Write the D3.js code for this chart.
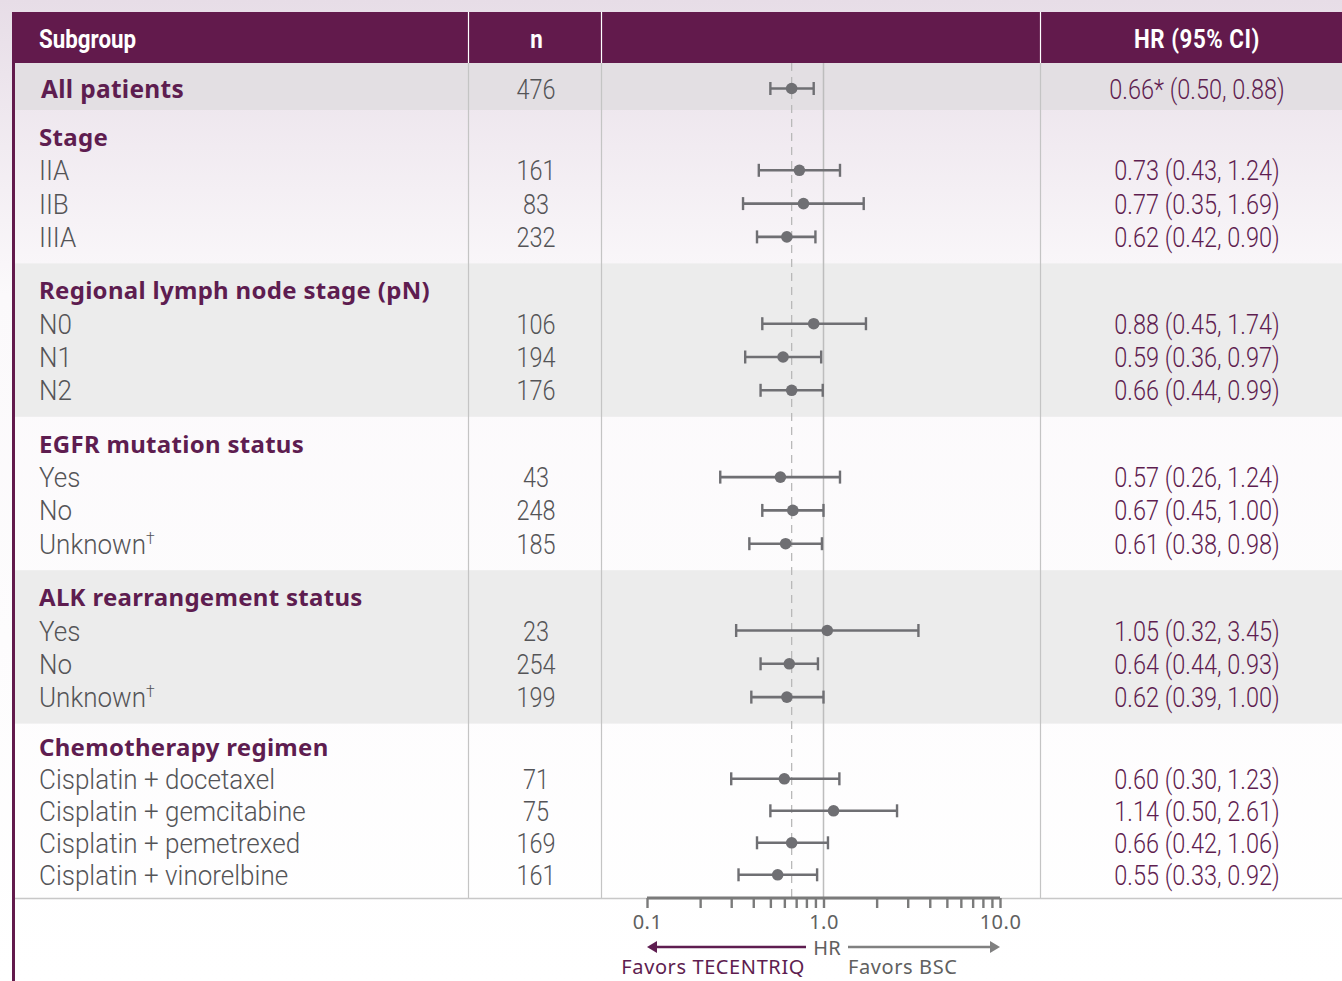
<!DOCTYPE html>
<html>
<head>
<meta charset="utf-8">
<script src="https://cdn.jsdelivr.net/npm/d3@7"></script>
<style>
  body { margin: 0; background: #ffffff; }
  svg { display: block; }
</style>
</head>
<body>
<svg id="chart" width="1342" height="981"></svg>
<script>
// ---- data ----
const columnHeaders = ["Subgroup", "n", "", "HR (95% CI)"];

const overallLabel = "All patients";
const overallN = 476;
const overallHR = 0.66;
const overallLow = 0.50;
const overallHigh = 0.88;

const sectionTitles = [
  "Stage",
  "Regional lymph node stage (pN)",
  "EGFR mutation status",
  "ALK rearrangement status",
  "Chemotherapy regimen"
];

const rowSection = [0, 0, 0, 1, 1, 1, 2, 2, 2, 3, 3, 3, 4, 4, 4, 4];
const rowLabels = [
  "IIA", "IIB", "IIIA",
  "N0", "N1", "N2",
  "Yes", "No", "Unknown†",
  "Yes", "No", "Unknown†",
  "Cisplatin + docetaxel", "Cisplatin + gemcitabine",
  "Cisplatin + pemetrexed", "Cisplatin + vinorelbine"
];
const rowN    = [161, 83, 232, 106, 194, 176, 43, 248, 185, 23, 254, 199, 71, 75, 169, 161];
const rowHR   = [0.73, 0.77, 0.62, 0.88, 0.59, 0.66, 0.57, 0.67, 0.61, 1.05, 0.64, 0.62, 0.60, 1.14, 0.66, 0.55];
const rowLow  = [0.43, 0.35, 0.42, 0.45, 0.36, 0.44, 0.26, 0.45, 0.38, 0.32, 0.44, 0.39, 0.30, 0.50, 0.42, 0.33];
const rowHigh = [1.24, 1.69, 0.90, 1.74, 0.97, 0.99, 1.24, 1.00, 0.98, 3.45, 0.93, 1.00, 1.23, 2.61, 1.06, 0.92];

const axisMajorTicks = [0.1, 1, 10];
const axisTickLabels = ["0.1", "1.0", "10.0"];
const favorsLeft = "Favors TECENTRIQ";
const favorsRight = "Favors BSC";
const axisTitle = "HR";

// ---- style ----
const W = 1342, H = 981;
const PURPLE = "#621a4c";
const TEXT_PURPLE = "#5e1d50";
const GRAY_TEXT = "#545457";
const MARK = "#6f6f73";
const COND = "Roboto, 'Liberation Sans', sans-serif";
const BOLD = "'Noto Sans', 'Open Sans', sans-serif";
const GEO = "'Noto Sans', 'Open Sans', sans-serif";
const BODY_SIZE = 28;
const LABEL_SX = 0.93;   // horizontal squeeze for label text
const NUM_SX = 0.84;     // horizontal squeeze for numeric text
const HEAD_SX = 0.86;    // horizontal squeeze for header text

const colX = [12, 468, 601, 1040, W];
const headerTop = 12, headerBottom = 63;
const overallBottom = 110;
const tableBottom = 898;
const sectionHeadOffset = 27, rowStep = 33.3, sectionPad = 26.5;
const lastRowStep = 32;

const svg = d3.select("#chart");

// page background wash
const defs = svg.append("defs");
const grad = defs.append("linearGradient").attr("id", "wash")
  .attr("x1", 0).attr("y1", 0).attr("x2", 0).attr("y2", 1);
grad.append("stop").attr("offset", "0").attr("stop-color", "#e7dde7");
grad.append("stop").attr("offset", "0.3").attr("stop-color", "#fbf9fb");
grad.append("stop").attr("offset", "1").attr("stop-color", "#ffffff");
svg.append("rect").attr("width", W).attr("height", H).attr("fill", "url(#wash)");

// condensed text helper: places text at (x,y) squeezed horizontally
function squeezed(sel, x, y, sx) {
  return sel.attr("transform", (d, i) => {
    const xx = typeof x === "function" ? x(d, i) : x;
    const yy = typeof y === "function" ? y(d, i) : y;
    return `translate(${xx},${yy}) scale(${sx},1)`;
  });
}

// ---- layout of sections (last section is fitted to the table bottom) ----
const sections = [];
let cursor = overallBottom;
sectionTitles.forEach((t, si) => {
  const idx = rowSection.map((s, i) => s === si ? i : -1).filter(i => i >= 0);
  const last = si === sectionTitles.length - 1;
  const top = cursor;
  let headY, step, bottom;
  if (last) {
    step = lastRowStep;
    bottom = tableBottom;
    headY = top + (bottom - top - step * idx.length) / 2;
  } else {
    step = rowStep;
    headY = top + sectionHeadOffset;
    bottom = top + sectionHeadOffset + rowStep * idx.length + sectionPad;
  }
  const rowYs = idx.map((_, j) => headY + step * (j + 1));
  sections.push({ title: t, top, bottom, headY, idx, rowYs });
  cursor = bottom;
});
const rowY = new Array(rowLabels.length);
sections.forEach(s => s.idx.forEach((i, k) => rowY[i] = s.rowYs[k]));
const overallY = (headerBottom + overallBottom) / 2 + 2;

// ---- bands ----
svg.append("rect").attr("x", colX[0]).attr("y", headerBottom)
  .attr("width", W - colX[0]).attr("height", overallBottom - headerBottom)
  .attr("fill", "#e3dfe3");
svg.selectAll("rect.band").data(sections).join("rect")
  .attr("class", "band")
  .attr("x", colX[0]).attr("y", d => d.top)
  .attr("width", W - colX[0]).attr("height", d => d.bottom - d.top)
  .attr("fill", (d, i) => i % 2 === 1 ? "#ececec" : "none");

// header bar
svg.append("rect").attr("x", colX[0]).attr("y", headerTop)
  .attr("width", W - colX[0]).attr("height", headerBottom - headerTop)
  .attr("fill", PURPLE);

// column separators
[colX[1], colX[2], colX[3]].forEach(x => {
  svg.append("line").attr("x1", x + 0.5).attr("x2", x + 0.5)
    .attr("y1", headerTop).attr("y2", headerBottom)
    .attr("stroke", "#ffffff").attr("stroke-width", 1.2);
  svg.append("line").attr("x1", x + 0.5).attr("x2", x + 0.5)
    .attr("y1", headerBottom).attr("y2", tableBottom)
    .attr("stroke", "#c4c4c4").attr("stroke-width", 1.2);
});
// bottom rule
svg.append("line").attr("x1", colX[0]).attr("x2", W)
  .attr("y1", tableBottom + 0.5).attr("y2", tableBottom + 0.5)
  .attr("stroke", "#c8c8c8").attr("stroke-width", 1.5);

// left purple border
svg.append("rect").attr("x", 12).attr("y", headerBottom)
  .attr("width", 3).attr("height", H - headerBottom).attr("fill", PURPLE);

// ---- header text ----
const hdr = svg.append("g").attr("font-family", COND).attr("font-weight", "bold")
  .attr("font-size", 26).attr("fill", "#ffffff");
squeezed(hdr.append("text"), 39, 48, HEAD_SX).text(columnHeaders[0]);
squeezed(hdr.append("text"), (colX[1] + colX[2]) / 2 + 2, 48, HEAD_SX)
  .attr("text-anchor", "middle").text(columnHeaders[1]);
squeezed(hdr.append("text"), 1197, 48, HEAD_SX)
  .attr("text-anchor", "middle").attr("letter-spacing", 0.6).text(columnHeaders[3]);

// ---- x scale (log HR) ----
const x = d3.scaleLog().domain([0.1, 10]).range([647, 1000]);

// reference lines
svg.append("line").attr("x1", x(1)).attr("x2", x(1))
  .attr("y1", headerBottom).attr("y2", tableBottom)
  .attr("stroke", "#bdbdbd").attr("stroke-width", 1.5);
svg.append("line").attr("x1", x(overallHR)).attr("x2", x(overallHR))
  .attr("y1", headerBottom).attr("y2", tableBottom)
  .attr("stroke", "#b9b9b9").attr("stroke-width", 1.3)
  .attr("stroke-dasharray", "8,6");

// ---- text columns ----
const fmt = d3.format(".2f");

// overall row
svg.append("text").attr("x", 41).attr("y", overallY + 9)
  .attr("font-family", BOLD).attr("font-weight", 700).attr("font-size", 24.5)
  .attr("letter-spacing", 0.3)
  .attr("fill", TEXT_PURPLE).text(overallLabel);
squeezed(svg.append("text"), 536, overallY + 10, NUM_SX)
  .attr("text-anchor", "middle").attr("font-family", COND).attr("font-size", BODY_SIZE)
  .attr("font-weight", 300)
  .attr("fill", GRAY_TEXT).text(overallN);
squeezed(svg.append("text"), 1197, overallY + 10, NUM_SX)
  .attr("text-anchor", "middle").attr("font-family", COND).attr("font-size", BODY_SIZE)
  .attr("font-weight", 300).attr("fill", TEXT_PURPLE)
  .text(`${fmt(overallHR)}* (${fmt(overallLow)}, ${fmt(overallHigh)})`);

// section titles
svg.selectAll("text.sect").data(sections).join("text")
  .attr("class", "sect")
  .attr("x", 39).attr("y", d => d.headY + 9)
  .attr("font-family", BOLD).attr("font-weight", 700).attr("font-size", 24)
  .attr("letter-spacing", 0.3)
  .attr("fill", TEXT_PURPLE).text(d => d.title);

// row labels (with superscript dagger)
const labelSel = squeezed(
  svg.selectAll("text.lab").data(rowLabels).join("text").attr("class", "lab"),
  39, (d, i) => rowY[i] + 10, LABEL_SX)
  .attr("font-family", COND).attr("font-size", BODY_SIZE).attr("font-weight", 300)
  .attr("fill", GRAY_TEXT);
labelSel.each(function (d) {
  const t = d3.select(this);
  if (d.endsWith("†")) {
    t.append("tspan").text(d.slice(0, -1));
    t.append("tspan").attr("dy", -10).attr("font-size", 17).text("†");
  } else {
    t.text(d);
  }
});

squeezed(svg.selectAll("text.n").data(rowN).join("text").attr("class", "n"),
  536, (d, i) => rowY[i] + 10, NUM_SX)
  .attr("text-anchor", "middle").attr("font-family", COND).attr("font-size", BODY_SIZE)
  .attr("font-weight", 300).attr("fill", GRAY_TEXT).text(d => d);

squeezed(svg.selectAll("text.hr").data(rowHR).join("text").attr("class", "hr"),
  1197, (d, i) => rowY[i] + 10, NUM_SX)
  .attr("text-anchor", "middle").attr("font-family", COND).attr("font-size", BODY_SIZE)
  .attr("font-weight", 300).attr("fill", TEXT_PURPLE)
  .text((d, i) => `${fmt(d)} (${fmt(rowLow[i])}, ${fmt(rowHigh[i])})`);

// ---- forest marks ----
const allHR = [overallHR].concat(rowHR);
const allLow = [overallLow].concat(rowLow);
const allHigh = [overallHigh].concat(rowHigh);
const allY = [overallY].concat(rowY);

const marks = svg.append("g").selectAll("g").data(allHR).join("g");
marks.append("line")
  .attr("x1", (d, i) => x(allLow[i])).attr("x2", (d, i) => x(allHigh[i]))
  .attr("y1", (d, i) => allY[i]).attr("y2", (d, i) => allY[i])
  .attr("stroke", MARK).attr("stroke-width", 2.6);
marks.append("line")
  .attr("x1", (d, i) => x(allLow[i])).attr("x2", (d, i) => x(allLow[i]))
  .attr("y1", (d, i) => allY[i] - 6.5).attr("y2", (d, i) => allY[i] + 6.5)
  .attr("stroke", MARK).attr("stroke-width", 2.4);
marks.append("line")
  .attr("x1", (d, i) => x(allHigh[i])).attr("x2", (d, i) => x(allHigh[i]))
  .attr("y1", (d, i) => allY[i] - 6.5).attr("y2", (d, i) => allY[i] + 6.5)
  .attr("stroke", MARK).attr("stroke-width", 2.4);
marks.append("circle")
  .attr("cx", d => x(d)).attr("cy", (d, i) => allY[i]).attr("r", 5.8)
  .attr("fill", MARK);

// ---- axis ----
const minorTicks = d3.range(2, 10).map(v => v / 10).concat(d3.range(2, 10));
const axisG = svg.append("g").attr("transform", `translate(0,${tableBottom})`);
const axis = d3.axisBottom(x)
  .tickValues(axisMajorTicks.concat(minorTicks))
  .tickSize(10)
  .tickFormat(d => {
    const k = axisMajorTicks.indexOf(d);
    return k >= 0 ? axisTickLabels[k] : "";
  });
axisG.call(axis);
axisG.select(".domain").attr("stroke", "#7a7a7a").attr("stroke-width", 3)
  .attr("d", `M${x(0.1)},0H${x(10)}`);
axisG.selectAll(".tick line").attr("stroke", "#7a7a7a").attr("stroke-width", 2.4);
axisG.selectAll(".tick text")
  .attr("font-family", GEO).attr("font-size", 20).attr("fill", "#606060")
  .attr("letter-spacing", 0.5).attr("dy", "0.9em");

// direction arrows
const arrowY = 947;
svg.append("line").attr("x1", 806).attr("x2", x(0.1) + 6)
  .attr("y1", arrowY).attr("y2", arrowY)
  .attr("stroke", TEXT_PURPLE).attr("stroke-width", 2.4);
svg.append("path")
  .attr("d", `M${x(0.1)},${arrowY}l10,-6v12z`).attr("fill", TEXT_PURPLE);
svg.append("line").attr("x1", 848).attr("x2", x(10) - 6)
  .attr("y1", arrowY).attr("y2", arrowY)
  .attr("stroke", "#808080").attr("stroke-width", 2.4);
svg.append("path")
  .attr("d", `M${x(10)},${arrowY}l-10,-6v12z`).attr("fill", "#808080");

svg.append("text").attr("x", 827).attr("y", arrowY + 8)
  .attr("text-anchor", "middle").attr("font-family", GEO).attr("font-size", 20)
  .attr("fill", "#606060").text(axisTitle);
svg.append("text").attr("x", 805).attr("y", 974)
  .attr("text-anchor", "end").attr("font-family", GEO).attr("font-size", 20)
  .attr("letter-spacing", 0.6)
  .attr("fill", TEXT_PURPLE).text(favorsLeft);
svg.append("text").attr("x", 848).attr("y", 974)
  .attr("font-family", GEO).attr("font-size", 20).attr("letter-spacing", 0.6)
  .attr("fill", "#606060").text(favorsRight);
</script>
</body>
</html>
